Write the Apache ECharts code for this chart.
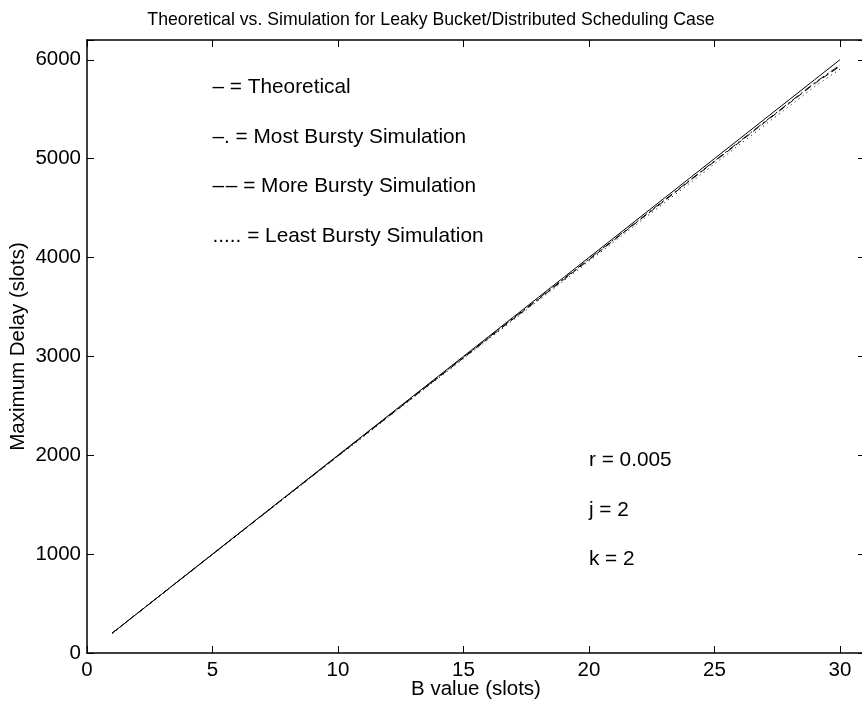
<!DOCTYPE html>
<html>
<head>
    <meta charset="utf-8" />
    <title>ECharts</title>
    <script src="https://cdn.jsdelivr.net/npm/echarts@6/dist/echarts.min.js"></script>
</head>
<body style="margin:0;background:#fff;">
<div id="main" style="width: 862px;height:709px;"></div>

<script type="text/javascript">
    // B value (slots)
    var bValues = [1, 2, 3, 4, 5, 6, 7, 8, 9, 10, 11, 12, 13, 14, 15, 16, 17, 18, 19, 20, 21, 22, 23, 24, 25, 26, 27, 28, 29, 30];
    // maximum delay (slots)
    var theoretical = [200, 400, 600, 800, 1000, 1200, 1400, 1600, 1800, 2000, 2200, 2400, 2600, 2800, 3000, 3200, 3400, 3600, 3800, 4000, 4200, 4400, 4600, 4800, 5000, 5200, 5400, 5600, 5800, 6000];
    var mostBursty = [200, 400, 600, 800, 999, 1199, 1398, 1598, 1797, 1996, 2195, 2394, 2593, 2792, 2991, 3190, 3389, 3587, 3786, 3984, 4183, 4381, 4580, 4778, 4976, 5174, 5372, 5570, 5768, 5945];
    var moreBursty = [200, 400, 599, 799, 998, 1197, 1396, 1595, 1794, 1993, 2191, 2390, 2589, 2786, 2985, 3184, 3382, 3579, 3778, 3976, 4177, 4375, 4572, 4772, 4970, 5167, 5366, 5563, 5761, 5934];
    var leastBursty = [199, 398, 597, 796, 995, 1194, 1392, 1591, 1789, 1987, 2185, 2383, 2581, 2779, 2976, 3174, 3371, 3568, 3765, 3962, 4159, 4356, 4552, 4749, 4945, 5142, 5338, 5534, 5730, 5905];

    var xTicks = [0, 5, 10, 15, 20, 25, 30];
    var yTicks = [0, 1000, 2000, 3000, 4000, 5000, 6000];

    // text notes in data coordinates
    var legendNotes = ['\u2013 = Theoretical', '\u2013. = Most Bursty Simulation', '\u2013\u200A\u2013 = More Bursty Simulation', '..... = Least Bursty Simulation'];
    var legendY = [5720, 5220, 4720, 4220];
    var paramNotes = ['r = 0.005', 'j = 2', 'k = 2'];
    var paramY = [1950, 1445, 945];

    var FONT = '"Liberation Sans", Arial, Helvetica, sans-serif';

    function pairs(ys) {
        return bValues.map(function (b, i) { return [b, ys[i]]; });
    }

    function axisBase() {
        return {
            type: 'value',
            axisLine: { show: true, onZero: false, lineStyle: { color: '#000', width: 1.5 } },
            axisTick: { show: true, inside: true, length: 7, lineStyle: { color: '#000', width: 1 } },
            splitLine: { show: false }
        };
    }

    var xBottom = axisBase();
    Object.assign(xBottom, {
        min: 0, max: 31, interval: 5, position: 'bottom',
        name: 'B value (slots)', nameLocation: 'middle', nameGap: 26, nameMoveOverlap: false,
        nameTextStyle: { color: '#000', fontSize: 20.5, fontFamily: FONT },
        axisLabel: {
            color: '#000', fontSize: 20.5, fontFamily: FONT, margin: 7,
            formatter: function (v) { return xTicks.indexOf(v) >= 0 ? String(v) : ''; }
        }
    });
    var xTop = axisBase();
    Object.assign(xTop, { min: 0, max: 31, interval: 5, position: 'top', axisLabel: { show: false } });

    var yLeft = axisBase();
    Object.assign(yLeft, {
        min: 0, max: 6200, interval: 1000, position: 'left',
        name: 'Maximum Delay (slots)', nameLocation: 'middle', nameGap: 58, nameMoveOverlap: false,
        nameTextStyle: { color: '#000', fontSize: 20.5, fontFamily: FONT },
        axisLabel: {
            color: '#000', fontSize: 20.5, fontFamily: FONT, margin: 6,
            formatter: function (v) { return yTicks.indexOf(v) >= 0 ? String(v) : ''; }
        }
    });
    var yRight = axisBase();
    Object.assign(yRight, { min: 0, max: 6200, interval: 1000, position: 'right', axisLabel: { show: false } });

    function lineSeries(name, ys, dash) {
        return {
            name: name, type: 'line', data: pairs(ys), showSymbol: false, symbol: 'none',
            silent: true, animation: false,
            lineStyle: { color: '#000', width: 1, type: dash }
        };
    }

    var myChart = echarts.init(document.getElementById('main'));
    var option = {
        backgroundColor: '#fff',
        animation: false,
        title: {
            text: 'Theoretical vs. Simulation for Leaky Bucket/Distributed Scheduling Case',
            left: 'center', top: 6,
            textStyle: { color: '#000', fontSize: 17.7, fontWeight: 'normal', fontFamily: FONT }
        },
        grid: { left: 87, top: 40, width: 778, height: 613, outerBoundsMode: 'none', containLabel: false },
        xAxis: [xBottom, xTop],
        yAxis: [yLeft, yRight],
        series: [
            lineSeries('Theoretical', theoretical, 'solid'),
            lineSeries('Most Bursty Simulation', mostBursty, [8, 3, 2, 3]),
            lineSeries('More Bursty Simulation', moreBursty, [7, 4]),
            lineSeries('Least Bursty Simulation', leastBursty, [1, 4])
        ]
    };
    myChart.setOption(option);

    // place the text notes through the axes
    var graphics = [];
    legendNotes.forEach(function (t, i) {
        var p = myChart.convertToPixel({ gridIndex: 0 }, [5, legendY[i]]);
        graphics.push({ type: 'text', x: p[0], y: p[1], style: { text: t, fill: '#000', font: '20.8px ' + FONT, verticalAlign: 'middle' } });
    });
    paramNotes.forEach(function (t, i) {
        var p = myChart.convertToPixel({ gridIndex: 0 }, [20, paramY[i]]);
        graphics.push({ type: 'text', x: p[0], y: p[1], style: { text: t, fill: '#000', font: '20.8px ' + FONT, verticalAlign: 'middle' } });
    });
    myChart.setOption({ graphic: graphics });
</script>
</body>
</html>
